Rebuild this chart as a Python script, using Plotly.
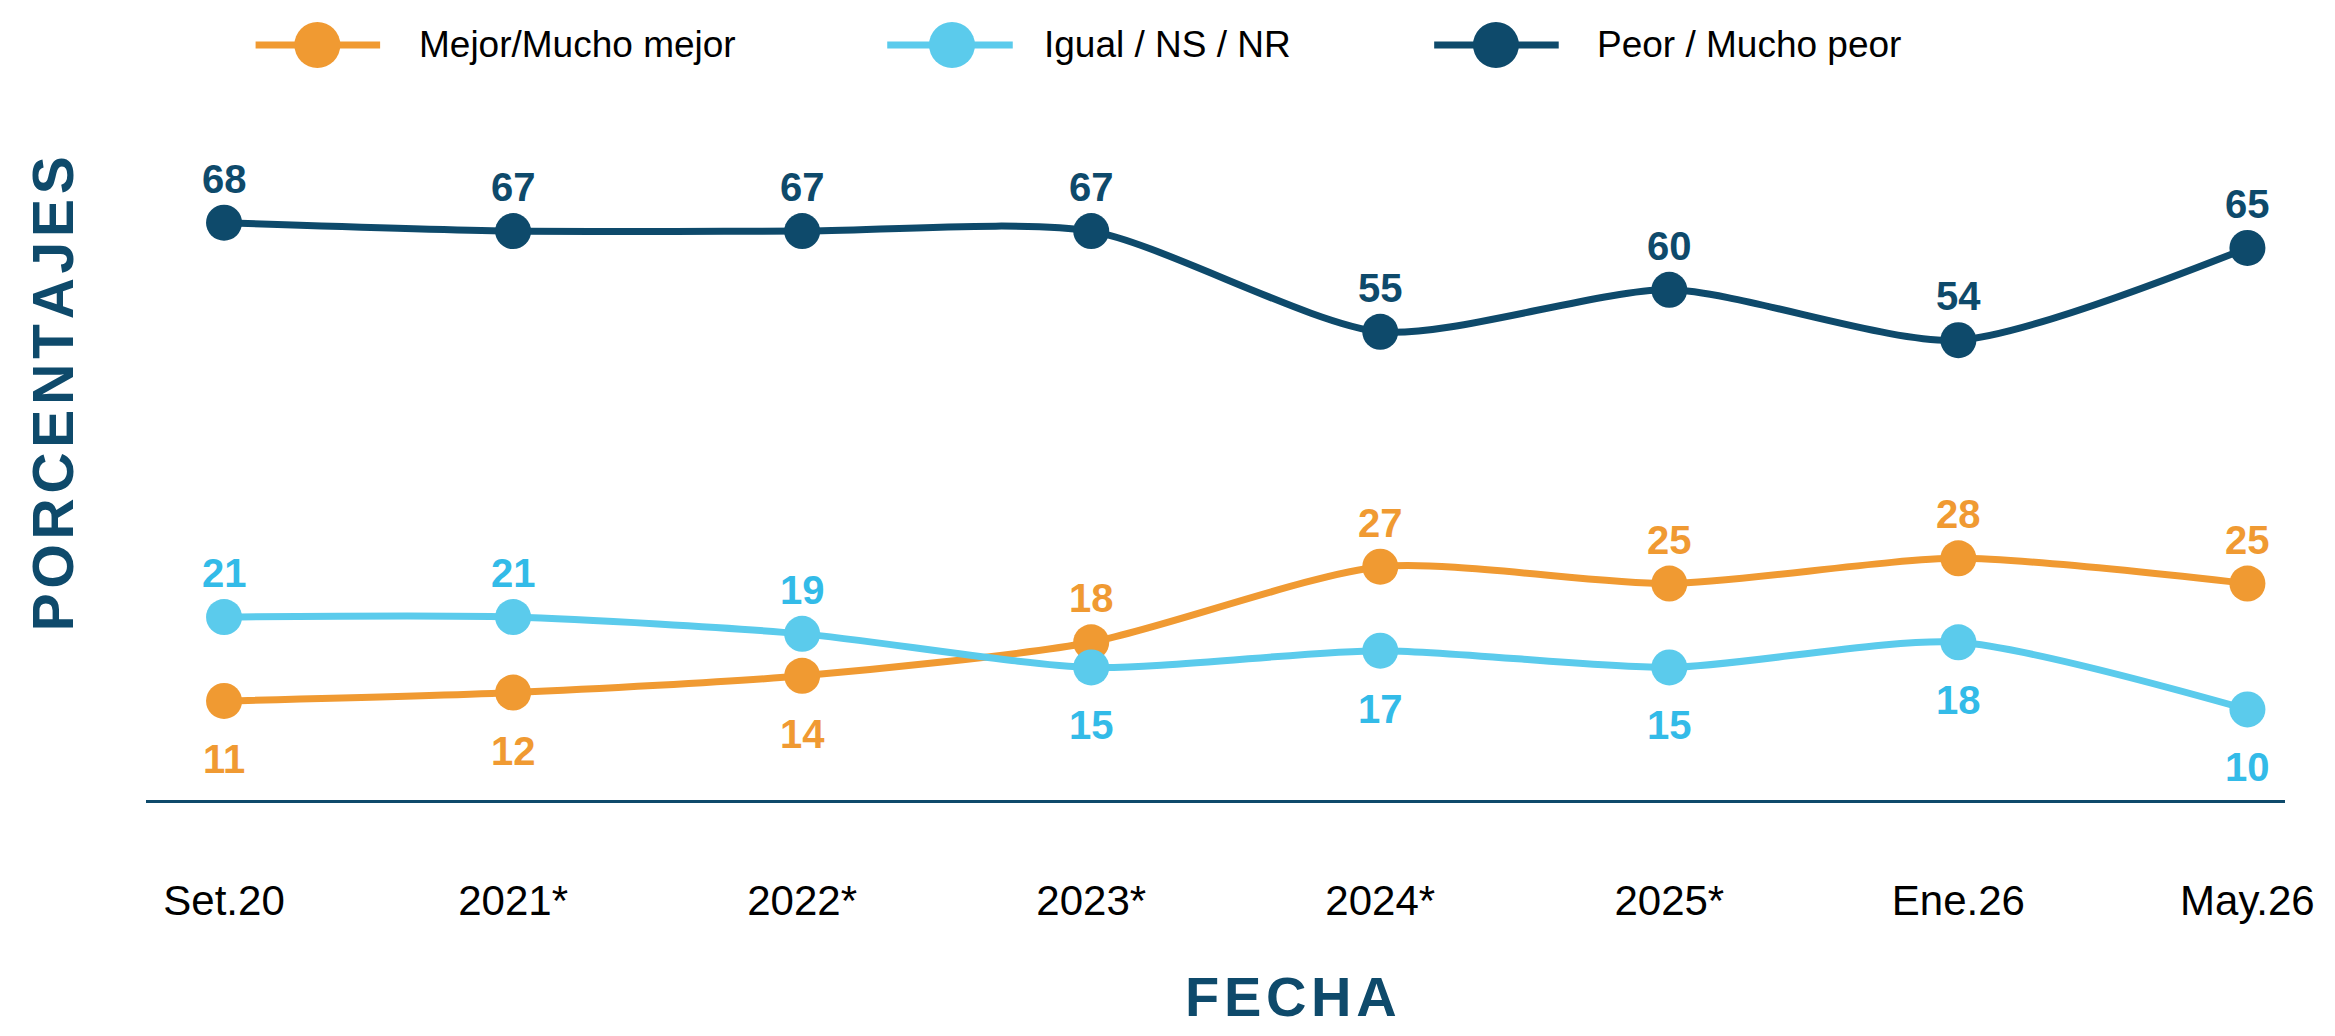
import plotly.graph_objects as go

categories = ["Set.20", "2021*", "2022*", "2023*", "2024*", "2025*", "Ene.26", "May.26"]
mejor = [11, 12, 14, 18, 27, 25, 28, 25]
igual = [21, 21, 19, 15, 17, 15, 18, 10]
peor = [68, 67, 67, 67, 55, 60, 54, 65]

series_names = ["Mejor/Mucho mejor", "Igual / NS / NR", "Peor / Mucho peor"]
line_colors = ["#F09A32", "#5BCBEC", "#0E4A6B"]
text_colors = ["#F09A32", "#33BBE8", "#0E4A6B"]

# label side: 1 = above the point, -1 = below
mejor_side = [-1, -1, -1, 1, 1, 1, 1, 1]
igual_side = [1, 1, 1, -1, -1, -1, -1, -1]
peor_side = [1] * 8

OFF = 8  # page body margin
W, H = 2335 - 2 * OFF, 1036 - 2 * OFF
ML, MT = 146 - OFF, 164 - OFF
MR = W - (2293 - OFF)
MB = H - (800 - OFF)
PW = W - ML - MR
PH = H - MT - MB


def px(x):
    return (x - OFF - ML) / PW


def py(y):
    return (H - MB - (y - OFF)) / PH


fig = go.Figure()
annotations = []
for vals, name, lc, tc, side in zip([mejor, igual, peor], series_names, line_colors, text_colors,
                                    [mejor_side, igual_side, peor_side]):
    fig.add_trace(go.Scatter(
        x=categories, y=vals, name=name, mode="lines+markers",
        line=dict(color=lc, width=7, shape="spline", smoothing=0.7),
        marker=dict(color=lc, size=36),
        showlegend=False, cliponaxis=False,
    ))
    for c, v, s in zip(categories, vals, side):
        annotations.append(dict(
            x=c, y=v, xref="x", yref="y", text=str(v), showarrow=False,
            xanchor="center", yanchor="middle", yshift=44 if s > 0 else -58,
            font=dict(family="Liberation Sans", size=40, color=tc, weight="bold"),
        ))

# manual legend (large symbols)
legend_items = [
    (256, 381, 318, 418),
    (890, 1016, 955, 1045),
    (1439, 1564, 1501, 1600),
]
shapes = []
ly = 45
for (l0, l1, mc, tx), name, lc in zip(legend_items, series_names, line_colors):
    shapes.append(dict(type="line", xref="paper", yref="paper", x0=px(l0), x1=px(l1), y0=py(ly), y1=py(ly),
                       line=dict(color=lc, width=7)))
    shapes.append(dict(type="circle", xref="paper", yref="paper", xsizemode="pixel", ysizemode="pixel",
                       xanchor=px(mc), yanchor=py(ly), x0=-23, x1=23, y0=-23, y1=23,
                       fillcolor=lc, line=dict(color=lc, width=0)))
    annotations.append(dict(xref="paper", yref="paper", x=px(tx), y=py(ly), xanchor="left", yanchor="middle",
                            text=name, showarrow=False,
                            font=dict(family="Liberation Sans", size=37, color="#000000")))

HS = "\u200a"
annotations.append(dict(xref="paper", yref="paper", x=px(53), y=py(394), xanchor="center", yanchor="middle",
                        text=HS.join("PORCENTAJES"), textangle=-90, showarrow=False,
                        font=dict(family="Liberation Sans", size=57, color="#0E4A6B", weight="bold")))
annotations.append(dict(xref="paper", yref="paper", x=px(1295), y=py(996), xanchor="center", yanchor="middle",
                        text=HS.join("FECHA"), showarrow=False,
                        font=dict(family="Liberation Sans", size=56, color="#0E4A6B", weight="bold")))

fig.update_layout(
    width=W, height=H,
    margin=dict(l=ML, r=MR, t=MT, b=MB),
    paper_bgcolor="white", plot_bgcolor="white",
    shapes=shapes, annotations=annotations,
    xaxis=dict(type="category", range=[-0.27, 7.13], showgrid=False, zeroline=False,
               showline=True, linecolor="#0E4A6B", linewidth=3,
               ticks="", ticklabelstandoff=62,
               tickfont=dict(family="Liberation Sans", size=42, color="#000000")),
    yaxis=dict(range=[-0.8, 75.0], showgrid=False, zeroline=False, showline=False,
               showticklabels=False, ticks=""),
)

fig.write_html("out.html")
